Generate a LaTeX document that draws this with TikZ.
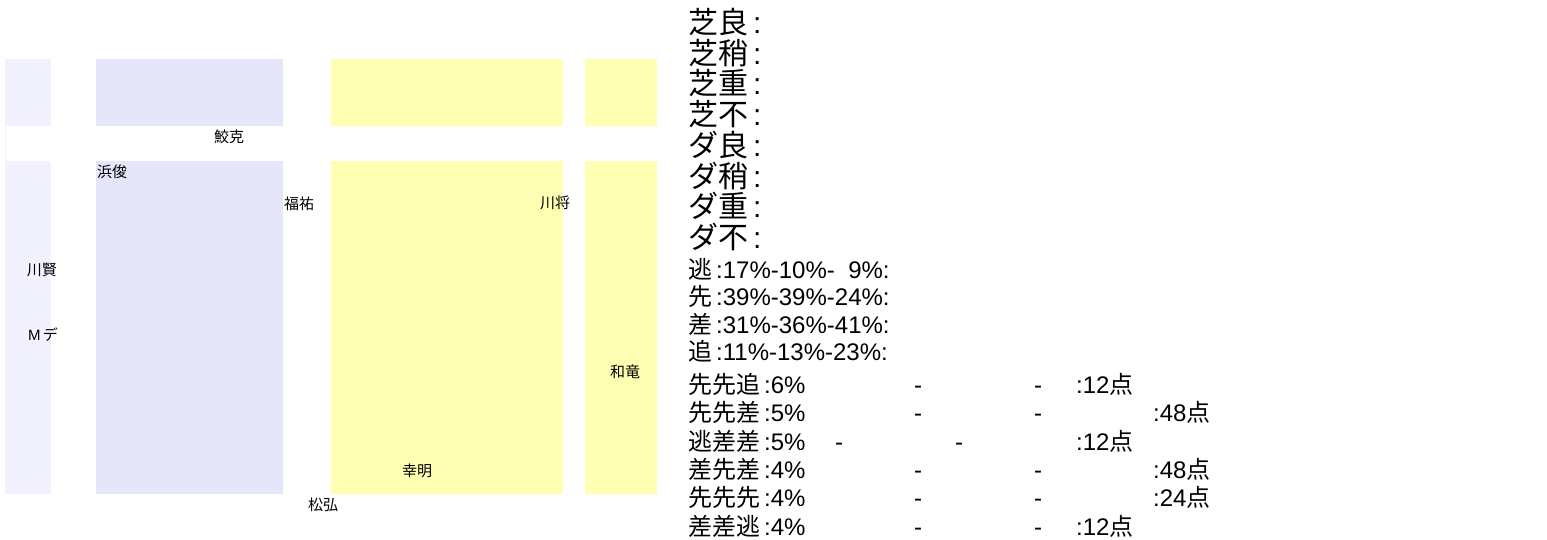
\documentclass[tikz,border=0pt]{standalone}
\usepackage{fontspec}
\setmainfont{Liberation Sans}
\newfontfamily\cjk{Noto Sans CJK JP}

\definecolor{paleblue}{RGB}{242,242,254}
\definecolor{lavblue}{RGB}{230,230,250}
\definecolor{paleyellow}{RGB}{255,255,180}

\tikzset{
	maplabel/.style={font={\fontsize{15}{15}\selectfont}, inner sep=0pt},
	bigrow/.style={font={\fontsize{30}{30}\selectfont}, inner sep=0pt, anchor=west},
	smallrow/.style={font={\fontsize{24}{24}\selectfont}, inner sep=0pt, anchor=west, text height=20pt, text depth=4pt},
	dashmark/.style={smallrow, anchor=center},
}

\begin{document}
\begin{tikzpicture}[x=1pt,y=-1pt]
	\useasboundingbox (0,0) rectangle (1547,540);

	\fill[paleblue] (5,59) rectangle (51,126);
	\fill[paleblue] (5,126) rectangle (6,161);
	\fill[paleblue] (5,161) rectangle (51,494);
	\fill[lavblue] (96,59) rectangle (283,126);
	\fill[lavblue] (96,161) rectangle (283,494);
	\fill[paleyellow] (331,59) rectangle (563,126);
	\fill[paleyellow] (331,161) rectangle (563,494);
	\fill[paleyellow] (585,59) rectangle (657,126);
	\fill[paleyellow] (585,161) rectangle (657,494);

	\node[maplabel] (Samekatsu) at (229,137) {\cjk 鮫克};
	\node[maplabel] (Hamashun) at (112,172) {\cjk 浜俊};
	\node[maplabel] (Fukuyu) at (299,204) {\cjk 福祐};
	\node[maplabel] (Kawasho) at (555,203) {\cjk 川将};
	\node[maplabel] (Kawaken) at (42,270) {\cjk 川賢};
	\node[maplabel] (Mde) at (43,335) {M\,{\cjk デ}};
	\node[maplabel] (Waryu) at (625,372) {\cjk 和竜};
	\node[maplabel] (Komei) at (417,471) {\cjk 幸明};
	\node[maplabel] (Shoko) at (323,505) {\cjk 松弘};

	\node[bigrow] (ShibaRyo) at (688,22) {{\cjk 芝良}\,:};
	\node[bigrow] (ShibaYaya) at (688,53) {{\cjk 芝稍}\,:};
	\node[bigrow] (ShibaOmo) at (688,83) {{\cjk 芝重}\,:};
	\node[bigrow] (ShibaFu) at (688,114) {{\cjk 芝不}\,:};
	\node[bigrow] (DaRyo) at (688,145) {{\cjk ダ良}\,:};
	\node[bigrow] (DaYaya) at (688,176) {{\cjk ダ稍}\,:};
	\node[bigrow] (DaOmo) at (688,206) {{\cjk ダ重}\,:};
	\node[bigrow] (DaFu) at (688,237) {{\cjk ダ不}\,:};

	\node[smallrow] (Nige) at (688,270) {{\cjk 逃}\,:17\%-10\%-\hphantom{1}9\%:};
	\node[smallrow] (Senko) at (688,297) {{\cjk 先}\,:39\%-39\%-24\%:};
	\node[smallrow] (Sashi) at (688,325) {{\cjk 差}\,:31\%-36\%-41\%:};
	\node[smallrow] (Oikomi) at (688,352) {{\cjk 追}\,:11\%-13\%-23\%:};

	\node[smallrow] (ComboA) at (688,385) {{\cjk 先先追}\,:6\%};
	\node[dashmark] (ComboAdashA) at (918,385) {-};
	\node[dashmark] (ComboAdashB) at (1038,385) {-};
	\node[smallrow] (ComboApts) at (1076,385) {:12{\cjk 点}};

	\node[smallrow] (ComboB) at (688,413) {{\cjk 先先差}\,:5\%};
	\node[dashmark] (ComboBdashA) at (918,413) {-};
	\node[dashmark] (ComboBdashB) at (1038,413) {-};
	\node[smallrow] (ComboBpts) at (1153,413) {:48{\cjk 点}};

	\node[smallrow] (ComboC) at (688,442) {{\cjk 逃差差}\,:5\%};
	\node[dashmark] (ComboCdashA) at (839,442) {-};
	\node[dashmark] (ComboCdashB) at (959,442) {-};
	\node[smallrow] (ComboCpts) at (1076,442) {:12{\cjk 点}};

	\node[smallrow] (ComboD) at (688,470) {{\cjk 差先差}\,:4\%};
	\node[dashmark] (ComboDdashA) at (918,470) {-};
	\node[dashmark] (ComboDdashB) at (1038,470) {-};
	\node[smallrow] (ComboDpts) at (1153,470) {:48{\cjk 点}};

	\node[smallrow] (ComboE) at (688,498) {{\cjk 先先先}\,:4\%};
	\node[dashmark] (ComboEdashA) at (918,498) {-};
	\node[dashmark] (ComboEdashB) at (1038,498) {-};
	\node[smallrow] (ComboEpts) at (1153,498) {:24{\cjk 点}};

	\node[smallrow] (ComboF) at (688,527) {{\cjk 差差逃}\,:4\%};
	\node[dashmark] (ComboFdashA) at (918,527) {-};
	\node[dashmark] (ComboFdashB) at (1038,527) {-};
	\node[smallrow] (ComboFpts) at (1076,527) {:12{\cjk 点}};
\end{tikzpicture}
\end{document}
